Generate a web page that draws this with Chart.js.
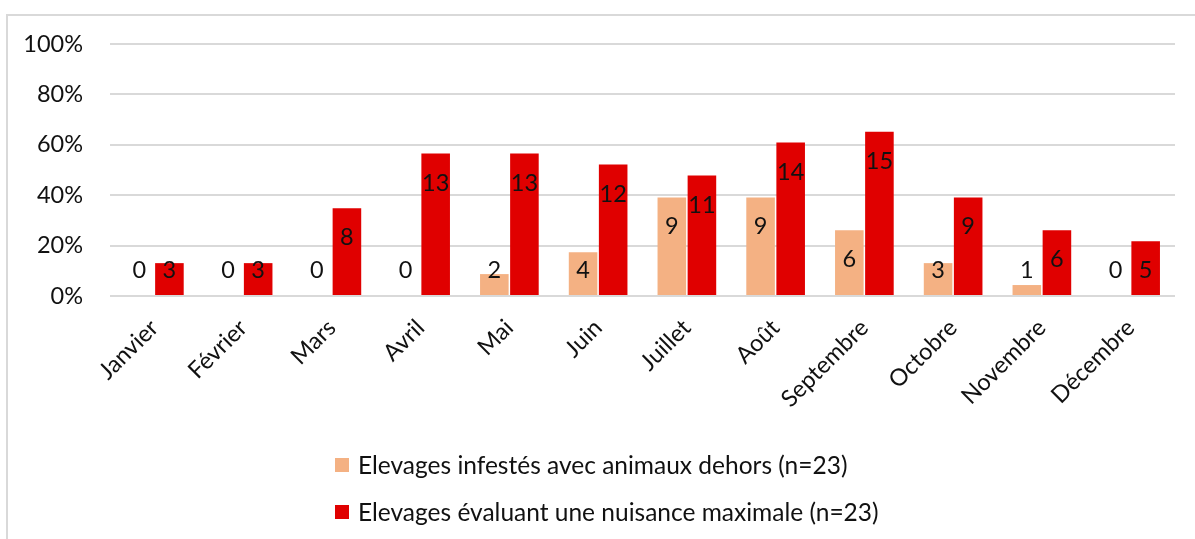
<!DOCTYPE html>
<html>
<head>
<meta charset="utf-8">
<script src="https://cdn.jsdelivr.net/npm/chart.js@4.4.1/dist/chart.umd.min.js"></script>
<style>
  html, body { margin: 0; padding: 0; background: #fff; overflow: hidden; }
  #wrap { position: relative; width: 1195px; height: 539px; overflow: hidden; }
  #frame { position: absolute; left: 6px; top: 14px; width: 1300px; height: 700px;
           border: 2px solid #d9d9d9; box-sizing: border-box; }
  #box { position: absolute; left: 0; top: 0; width: 1195px; height: 539px; }
  .leg { position: absolute; left: 335px; font-family: Lato, "Open Sans", sans-serif;
         font-size: 24.5px; color: #111; white-space: nowrap; }
  .leg .sw { position: absolute; left: 0; width: 14px; height: 14px; }
  .leg .tx { position: absolute; left: 23px; line-height: 28px; }
</style>
</head>
<body>
<div id="wrap">
  <div id="frame"></div>
  <div id="box"><canvas id="c"></canvas></div>
  <div id="legend"></div>
</div>
<script>
const months = ['Janvier','Février','Mars','Avril','Mai','Juin','Juillet','Août','Septembre','Octobre','Novembre','Décembre'];
const nFarms = 23;
const infestedCounts = [0,0,0,0,2,4,9,9,6,3,1,0];
const nuisanceCounts = [3,3,8,13,13,12,11,14,15,9,6,5];
const seriesNames = ['Elevages infestés avec animaux dehors (n=23)', 'Elevages évaluant une nuisance maximale (n=23)'];
const seriesColors = ['#F4B183', '#E00000'];
const yTicks = [0,20,40,60,80,100];

const FONT = 'Lato, "Open Sans", sans-serif';
const FS = 23.5;
const toPct = arr => arr.map(v => v / nFarms * 100);

const labelPlugin = {
  id: 'countLabels',
  afterDatasetsDraw(chart) {
    const ctx = chart.ctx;
    const yScale = chart.scales.y;
    const base = yScale.getPixelForValue(0);
    ctx.save();
    ctx.font = FS + 'px ' + FONT;
    ctx.fillStyle = '#111';
    ctx.textAlign = 'center';
    ctx.textBaseline = 'middle';
    chart.data.datasets.forEach((ds, di) => {
      const meta = chart.getDatasetMeta(di);
      meta.data.forEach((el, i) => {
        const y = Math.min(el.y + 29.5, base - 25.5);
        ctx.fillText(String(ds.counts[i]), el.x, y);
      });
    });
    ctx.restore();
  }
};

new Chart(document.getElementById('c'), {
  type: 'bar',
  data: {
    labels: months,
    datasets: [
      { label: seriesNames[0], data: toPct(infestedCounts), counts: infestedCounts,
        backgroundColor: seriesColors[0], categoryPercentage: 0.678, barPercentage: 0.95 },
      { label: seriesNames[1], data: toPct(nuisanceCounts), counts: nuisanceCounts,
        backgroundColor: seriesColors[1], categoryPercentage: 0.678, barPercentage: 0.95 }
    ]
  },
  options: {
    responsive: true,
    maintainAspectRatio: false,
    animation: false,
    layout: { padding: { top: 44, right: 20, left: 0, bottom: 0 } },
    plugins: { legend: { display: false }, tooltip: { enabled: false } },
    scales: {
      x: {
        grid: { display: false },
        border: { display: false },
        ticks: { autoSkip: false, maxRotation: 45, minRotation: 45, padding: 10,
                 color: '#111', font: { family: FONT, size: FS } },
        afterFit(s) { s.height = 243; }
      },
      y: {
        min: 0, max: 100,
        afterBuildTicks(s) { s.ticks = yTicks.map(v => ({ value: v })); },
        grid: { color: '#d9d9d9', lineWidth: 2, drawTicks: false },
        border: { display: false },
        ticks: { padding: 27, color: '#111', font: { family: FONT, size: FS },
                 callback: v => v + '%' },
        afterFit(s) { s.width = 110; }
      }
    }
  },
  plugins: [labelPlugin]
});

const legend = document.getElementById('legend');
const legTops = [458, 505];
seriesNames.forEach((name, i) => {
  const d = document.createElement('div');
  d.className = 'leg';
  d.style.top = legTops[i] + 'px';
  d.innerHTML = '<div class="sw" style="background:' + seriesColors[i] + '"></div>' +
                '<div class="tx" style="top:-7px">' + name + '</div>';
  legend.appendChild(d);
});
</script>
</body>
</html>
